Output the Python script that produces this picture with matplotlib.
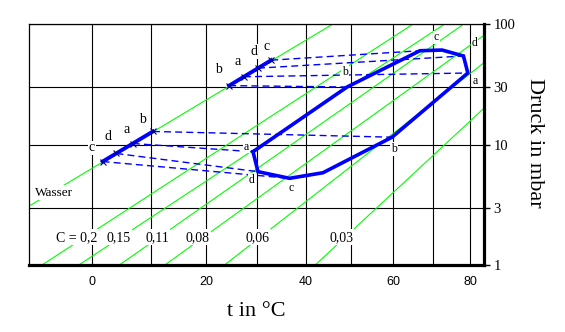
import numpy as np
import matplotlib
matplotlib.use('Agg')
import matplotlib.pyplot as plt

plt.rcParams['font.family'] = ['Liberation Serif', 'DejaVu Serif']

# isosteres (straight in log p over -1/T): temperature in °C at 1 mbar and at 100 mbar
iso_names = ['Wasser', '0,2', '0,15', '0,11', '0,08', '0,06', '0,03']
iso_t_1mbar = [-24.1, -8.0, -2.2, 4.5, 12.4, 23.5, 42.1]
iso_t_100mbar = [46.0, 65.0, 73.1, 78.2, 88.2, 98.2, 111.0]

# labels of the isosteres
iso_labels = ['C = 0,2', '0,15', '0,11', '0,08', '0,06', '0,03']
iso_label_t = [-2.5, 4.4, 11.0, 18.3, 30.0, 48.0]

# evaporator and condenser states (on the water line)
evap_names = ['c', 'd', 'a', 'b']
evap_t = [1.7, 4.0, 6.8, 10.3]
evap_p = [7.22, 8.42, 10.19, 12.83]
cond_names = ['b', 'a', 'd', 'c']
cond_t = [24.4, 27.3, 30.1, 32.8]
cond_p = [30.8, 36.5, 43.0, 50.1]

# adsorber loop
loop_names = ['a', 'b', 'c', '', 'd', 'a', 'b', '', 'c', 'd']
loop_t = [29.1, 49.2, 66.7, 72.4, 78.1, 79.3, 59.8, 43.8, 36.6, 30.1]
loop_p = [8.71, 30.0, 60.0, 60.8, 54.3, 39.2, 11.5, 5.83, 5.24, 5.95]

# which loop point each evaporator / condenser state is connected to
evap_link = [8, 9, 0, 6]
cond_link = [1, 5, 4, 2]

BLUE = '#0000ff'
GREEN = '#00ff00'


def fwd(t):
    return -1000.0 / (np.asarray(t, dtype=float) + 273.15)


def inv(u):
    return -1000.0 / np.asarray(u, dtype=float) - 273.15


fig = plt.figure(figsize=(5.65, 3.32), dpi=100)
ax = fig.add_axes([28.9 / 565, 1 - 265 / 332, (483.8 - 28.9) / 565, (265 - 24) / 332])
ax.set_xscale('function', functions=(fwd, inv))
ax.set_yscale('log')
ax.set_xlim(-10, 83.7)
ax.set_ylim(1, 100)

# grid
ax.set_axisbelow(True)
ax.set_xticks(range(0, 81, 10))
ax.set_xticklabels([str(v) if v % 20 == 0 else '' for v in range(0, 81, 10)],
                   family=['Liberation Sans'], fontsize=9)
ax.set_yticks([1, 3, 10, 30, 100])
ax.set_yticklabels(['1', '3', '10', '30', '100'], fontsize=10.5)
ax.yaxis.set_minor_locator(matplotlib.ticker.NullLocator())
ax.xaxis.set_minor_locator(matplotlib.ticker.NullLocator())
ax.yaxis.tick_right()
ax.tick_params(axis='x', length=0, pad=8)
ax.tick_params(axis='y', length=4, width=1, pad=3)
ax.grid(True, color='black', linewidth=0.8)

for side in ['left', 'top']:
    ax.spines[side].set_linewidth(0.9)
for side in ['right', 'bottom']:
    ax.spines[side].set_linewidth(2.3)

# isosteres
for t1, t100 in zip(iso_t_1mbar, iso_t_100mbar):
    ax.plot([t1, t100], [1, 100], color=GREEN, linewidth=0.8, zorder=1)

box = dict(facecolor='white', edgecolor='none', pad=1.0)
for lbl, t in zip(iso_labels, iso_label_t):
    ax.text(t, 1.7, lbl, fontsize=10, ha='center', va='center', bbox=box, zorder=3)
ax.text(-6.1, 3.98, 'Wasser', fontsize=9.5, ha='center', va='center', bbox=box, zorder=3)

# connections at (nearly) constant pressure
for i, j in enumerate(evap_link):
    ax.plot([evap_t[i], loop_t[j]], [evap_p[i], loop_p[j]], color=BLUE,
            linewidth=1.0, dashes=(5, 3), zorder=2)
for i, j in enumerate(cond_link):
    ax.plot([cond_t[i], loop_t[j]], [cond_p[i], loop_p[j]], color=BLUE,
            linewidth=1.0, dashes=(5, 3), zorder=2)

# evaporator and condenser
for ts, ps in [(evap_t, evap_p), (cond_t, cond_p)]:
    ax.plot([ts[0], ts[-1]], [ps[0], ps[-1]], color=BLUE, linewidth=2.8, zorder=4)
    ax.plot(ts, ps, linestyle='none', marker='x', markersize=4, color='#000080',
            markeredgewidth=0.8, zorder=5)

# adsorber loop
ax.plot(loop_t + loop_t[:1], loop_p + loop_p[:1], color=BLUE, linewidth=2.6,
        solid_joinstyle='miter', zorder=4)

# state labels, offsets in pixels
evap_off = [(-10.6, 13.8), (-8.4, 16.8), (-6.6, 14.5), (-10, 11.5)]
cond_off = [(-10.3, 15.7), (-6, 15), (-4, 16.7), (-5, 13.5)]
loop_off = [(-6.6, 5), (-2, 15.3), (16.7, 13.4), (0, 0), (10.7, 12.7),
            (7.3, -7.7), (2, -12), (0, 0), (1.7, -10), (-6.6, -8.3)]

for names, ts, ps, offs, fs in [(evap_names, evap_t, evap_p, evap_off, 10),
                                (cond_names, cond_t, cond_p, cond_off, 10),
                                (loop_names, loop_t, loop_p, loop_off, 8.5)]:
    for n, t, p, off in zip(names, ts, ps, offs):
        if n:
            ax.annotate(n, (t, p), xytext=off, textcoords='offset pixels',
                        fontsize=fs, ha='center', va='center',
                        bbox=dict(facecolor='white', edgecolor='none', pad=0.5),
                        zorder=3)

fig.text(256.4 / 565, 1 - 311.4 / 332, 't in °C', fontsize=16, ha='center', va='center')
fig.text(535 / 565, 1 - 142.5 / 332, 'Druck in mbar', fontsize=16, ha='center',
         va='center', rotation=270)

fig.savefig('out.png', dpi=100)
